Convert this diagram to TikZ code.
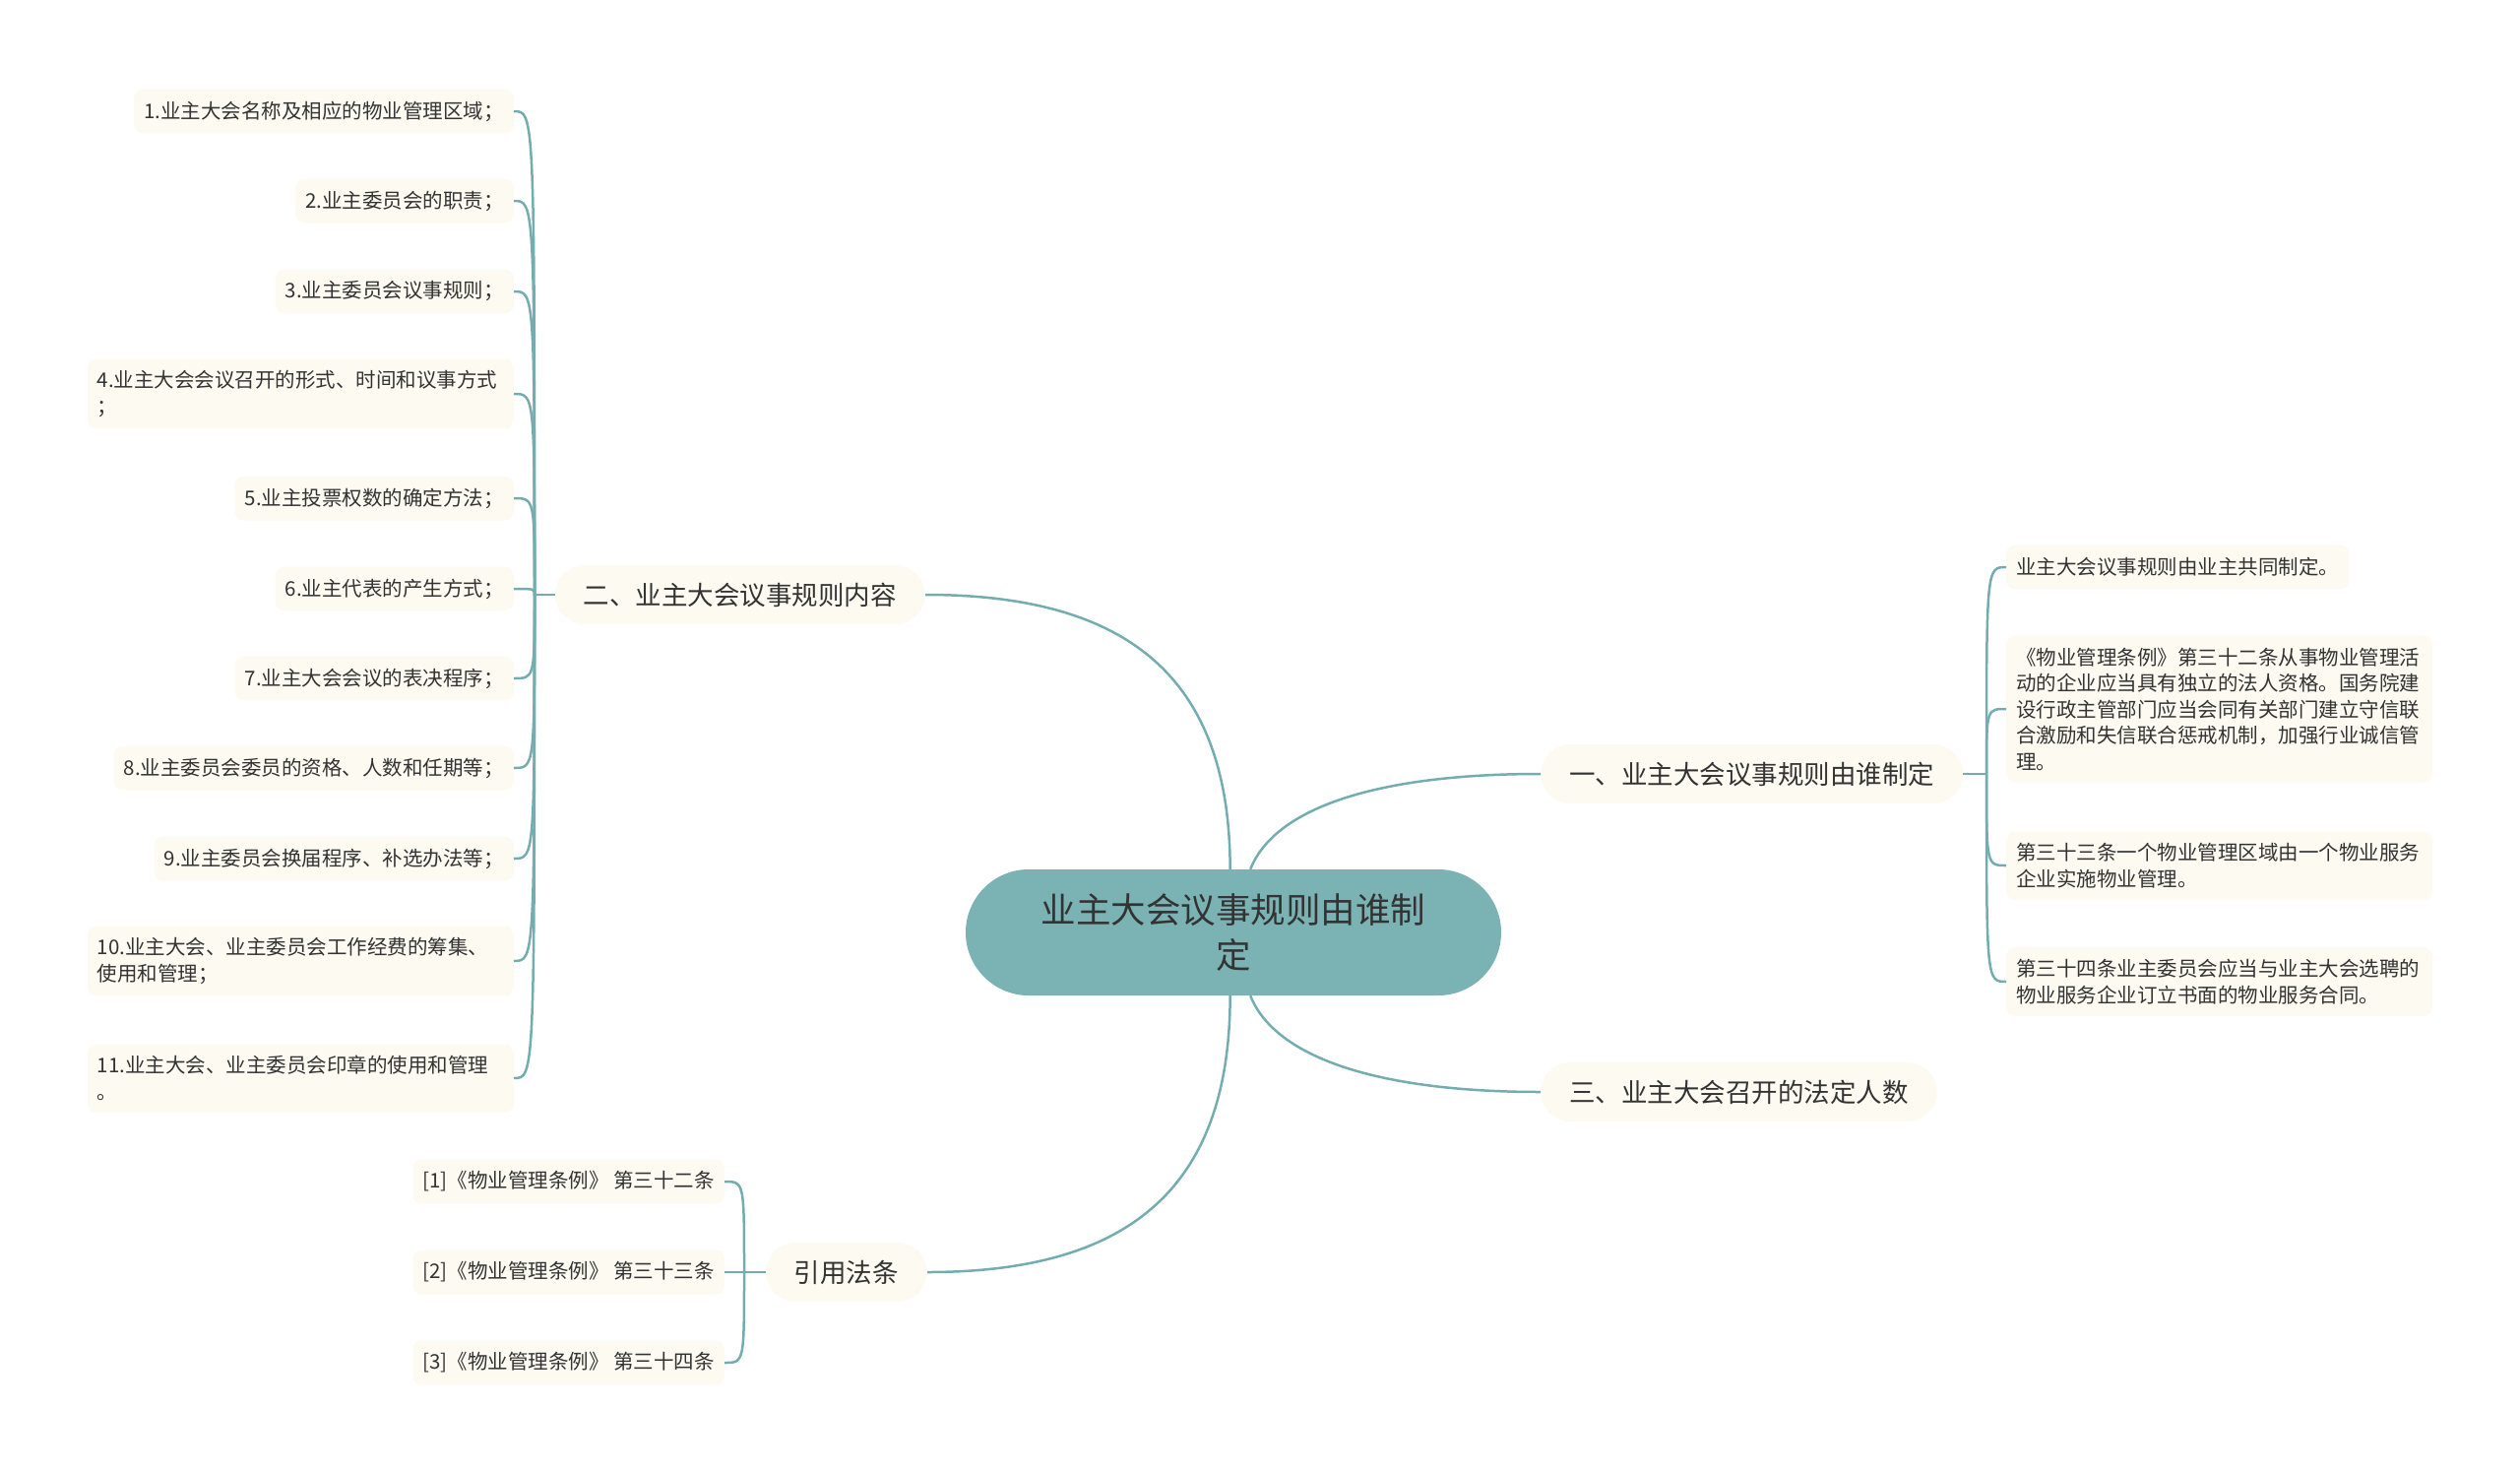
\documentclass[tikz,border=0pt]{standalone}
\usepackage{fontspec}
\setmainfont{Noto Sans CJK SC}
\definecolor{rootfill}{HTML}{7BB3B5}
\definecolor{linec}{HTML}{74ADAF}
\definecolor{leaffill}{HTML}{FCFAF1}
\definecolor{txt}{HTML}{333333}
\tikzstyle{rootnode}=[rectangle,rounded corners=64pt,fill=rootfill,text=txt,minimum width=544pt,minimum height=128pt,text width=400pt,align=center,inner sep=0pt,font=\fontsize{35.5}{46}\selectfont]
\tikzstyle{topicnode}=[rectangle,rounded corners=30pt,fill=leaffill,text=txt,minimum height=60pt,inner xsep=29pt,inner ysep=0pt,font=\fontsize{26.5}{32}\selectfont]
\tikzstyle{leafnode}=[rectangle,rounded corners=9pt,fill=leaffill,text=txt,minimum height=45pt,inner xsep=10pt,inner ysep=12pt,font=\fontsize{20.5}{26.5}\selectfont]
\tikzstyle{leafwide}=[leafnode,text width=413pt,align=left]
\tikzstyle{link}=[draw=linec,line width=2.5pt]

\begin{document}
\begin{tikzpicture}[x=1pt,y=-1pt]
    \useasboundingbox (0,0) rectangle (2560,1496);
    % centre and topics
    \node[rootnode] (ctr) at (1253,947) {业主大会议事规则由谁制\\定};
    \node[topicnode,anchor=west] (t1) at (1565,786)  {一、业主大会议事规则由谁制定};
    \node[topicnode,anchor=east] (t2) at (940,604)   {二、业主大会议事规则内容};
    \node[topicnode,anchor=west] (t3) at (1565,1109) {三、业主大会召开的法定人数};
    \node[topicnode,anchor=east] (t4) at (942,1292)  {引用法条};
    \coordinate (j1) at (2018,786);
    \coordinate (j2) at (543,604);
    \coordinate (j4) at (756,1292);

    % leaves of t1
    \node[leafnode,anchor=west] (r1) at (2038,576) {业主大会议事规则由业主共同制定。};
    \node[leafwide,anchor=west] (r2) at (2038,720) {《物业管理条例》第三十二条从事物业管理活\\动的企业应当具有独立的法人资格。国务院建\\设行政主管部门应当会同有关部门建立守信联\\合激励和失信联合惩戒机制，加强行业诚信管\\理。};
    \node[leafwide,anchor=west] (r3) at (2038,879) {第三十三条一个物业管理区域由一个物业服务\\企业实施物业管理。};
    \node[leafwide,anchor=west] (r4) at (2038,997) {第三十四条业主委员会应当与业主大会选聘的\\物业服务企业订立书面的物业服务合同。};

    % leaves of t2
    \node[leafnode,anchor=east] (a1) at (522,113)  {1.业主大会名称及相应的物业管理区域；};
    \node[leafnode,anchor=east] (a2) at (522,204)  {2.业主委员会的职责；};
    \node[leafnode,anchor=east] (a3) at (522,296)  {3.业主委员会议事规则；};
    \node[leafwide,anchor=east] (a4) at (522,400)  {4.业主大会会议召开的形式、时间和议事方式\\；};
    \node[leafnode,anchor=east] (a5) at (522,506)  {5.业主投票权数的确定方法；};
    \node[leafnode,anchor=east] (a6) at (522,598)  {6.业主代表的产生方式；};
    \node[leafnode,anchor=east] (a7) at (522,689)  {7.业主大会会议的表决程序；};
    \node[leafnode,anchor=east] (a8) at (522,780)  {8.业主委员会委员的资格、人数和任期等；};
    \node[leafnode,anchor=east] (a9) at (522,872)  {9.业主委员会换届程序、补选办法等；};
    \node[leafwide,anchor=east] (a10) at (522,976) {10.业主大会、业主委员会工作经费的筹集、\\使用和管理；};
    \node[leafwide,anchor=east] (a11) at (522,1095) {11.业主大会、业主委员会印章的使用和管理\\。};

    % leaves of t4
    \node[leafnode,anchor=east] (c1) at (736,1200) {[1]《物业管理条例》 第三十二条};
    \node[leafnode,anchor=east] (c2) at (736,1292) {[2]《物业管理条例》 第三十三条};
    \node[leafnode,anchor=east] (c3) at (736,1384) {[3]《物业管理条例》 第三十四条};

    % connectors
    \draw[link] (ctr.75) .. controls +(25,-63) and +(-165,0) .. (t1.west);
    \draw[link] (ctr.93) .. controls +(0,-200) and +(200,0) .. (t2.east);
    \draw[link] (ctr.-75) .. controls +(25,63) and +(-165,0) .. (t3.west);
    \draw[link] (ctr.-93) .. controls +(0,200) and +(200,0) .. (t4.east);
    \draw[link] (t1.east) -- (j1);
    \draw[link] (t2.west) -- (j2);
    \draw[link] (t4.west) -- (j4);
    \foreach \l in {r1,r2,r3,r4}
    \draw[link] (j1) .. controls (j1 |- \l.west) .. (\l.west);
    \foreach \i in {1,...,11}
    \draw[link] (j2) .. controls (j2 |- a\i.east) .. (a\i.east);
    \foreach \l in {c1,c2,c3}
    \draw[link] (j4) .. controls (j4 |- \l.east) .. (\l.east);
\end{tikzpicture}
\end{document}
